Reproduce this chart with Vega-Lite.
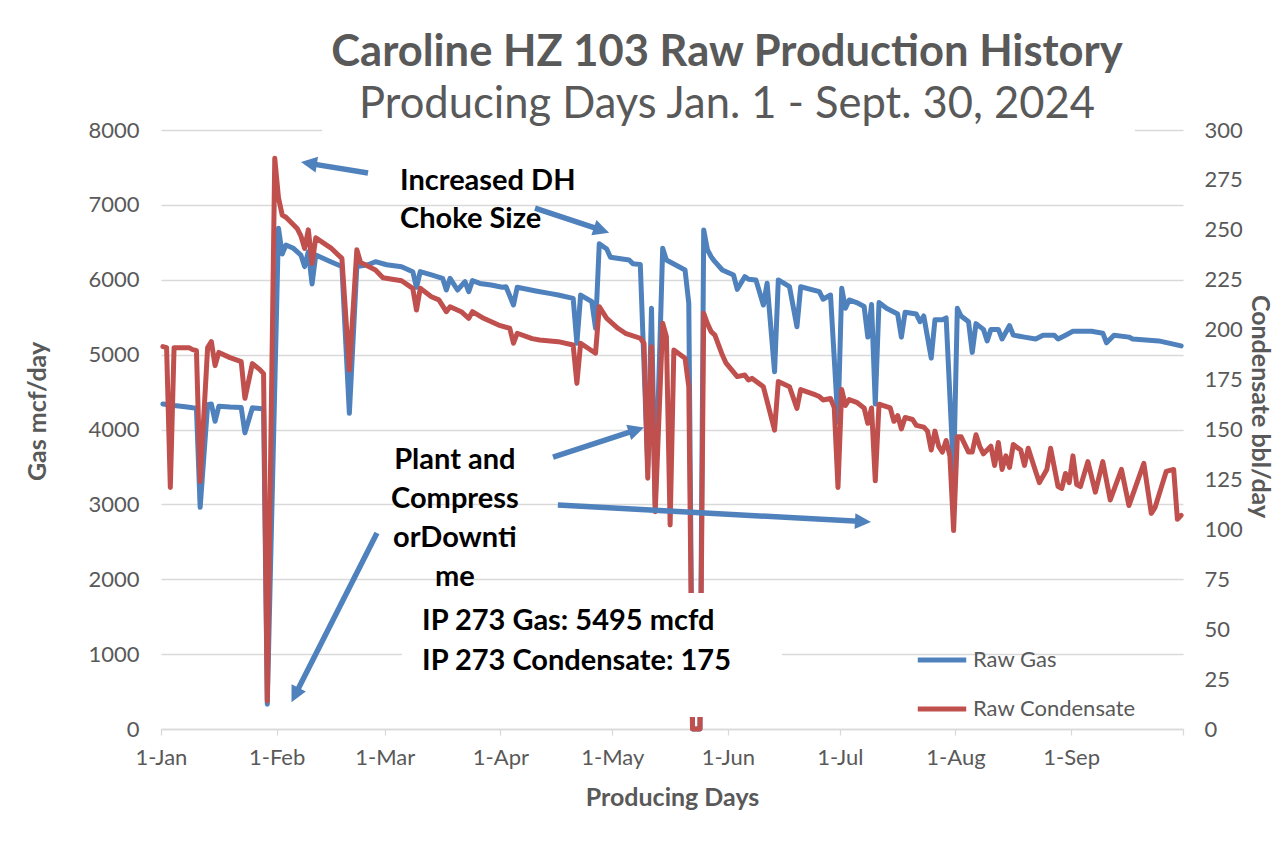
{
  "$schema": "https://vega.github.io/schema/vega-lite/v6.json",
  "width": 1022,
  "height": 599,
  "autosize": {"type": "none"},
  "padding": {"left": 161, "top": 130, "right": 98, "bottom": 132},
  "background": "white",
  "config": {
    "font": "Lato",
    "view": {"stroke": null},
    "axis": {"labelFont": "Lato", "titleFont": "Lato"}
  },
  "title": {
    "text": "Caroline HZ 103 Raw Production History",
    "subtitle": "Producing Days Jan. 1 - Sept. 30, 2024",
    "anchor": "middle",
    "dx": 55,
    "offset": -8,
    "font": "Lato",
    "fontSize": 43.5,
    "fontWeight": "bold",
    "color": "#595959",
    "subtitleFont": "Lato",
    "subtitleFontSize": 43.5,
    "subtitleFontWeight": "normal",
    "subtitleColor": "#595959",
    "subtitlePadding": 8
  },
  "datasets": {
    "gas": [
      {"date": "2024-01-01", "mcf": 4340}, {"date": "2024-01-04", "mcf": 4320}, {"date": "2024-01-07", "mcf": 4305},
      {"date": "2024-01-09", "mcf": 4290}, {"date": "2024-01-10", "mcf": 4285}, {"date": "2024-01-11", "mcf": 2960},
      {"date": "2024-01-13", "mcf": 4330}, {"date": "2024-01-14", "mcf": 4340}, {"date": "2024-01-15", "mcf": 4110},
      {"date": "2024-01-16", "mcf": 4310}, {"date": "2024-01-19", "mcf": 4300}, {"date": "2024-01-22", "mcf": 4295},
      {"date": "2024-01-23", "mcf": 3955}, {"date": "2024-01-25", "mcf": 4290}, {"date": "2024-01-27", "mcf": 4280},
      {"date": "2024-01-28", "mcf": 4275}, {"date": "2024-01-29", "mcf": 330}, {"date": "2024-02-01", "mcf": 6687},
      {"date": "2024-02-02", "mcf": 6344}, {"date": "2024-02-03", "mcf": 6464}, {"date": "2024-02-05", "mcf": 6420},
      {"date": "2024-02-07", "mcf": 6330}, {"date": "2024-02-08", "mcf": 6176}, {"date": "2024-02-09", "mcf": 6375},
      {"date": "2024-02-10", "mcf": 5944}, {"date": "2024-02-11", "mcf": 6330}, {"date": "2024-02-15", "mcf": 6241},
      {"date": "2024-02-18", "mcf": 6176}, {"date": "2024-02-20", "mcf": 4216}, {"date": "2024-02-22", "mcf": 6176},
      {"date": "2024-02-25", "mcf": 6200}, {"date": "2024-02-27", "mcf": 6241}, {"date": "2024-03-01", "mcf": 6200},
      {"date": "2024-03-05", "mcf": 6174}, {"date": "2024-03-08", "mcf": 6108}, {"date": "2024-03-09", "mcf": 5899},
      {"date": "2024-03-10", "mcf": 6108}, {"date": "2024-03-13", "mcf": 6065}, {"date": "2024-03-16", "mcf": 6019},
      {"date": "2024-03-17", "mcf": 5863}, {"date": "2024-03-18", "mcf": 6019}, {"date": "2024-03-20", "mcf": 5863},
      {"date": "2024-03-22", "mcf": 5974}, {"date": "2024-03-23", "mcf": 5840}, {"date": "2024-03-24", "mcf": 5988},
      {"date": "2024-03-26", "mcf": 5951}, {"date": "2024-03-29", "mcf": 5930}, {"date": "2024-04-01", "mcf": 5900},
      {"date": "2024-04-02", "mcf": 5907}, {"date": "2024-04-04", "mcf": 5663}, {"date": "2024-04-05", "mcf": 5899},
      {"date": "2024-04-10", "mcf": 5850}, {"date": "2024-04-14", "mcf": 5815}, {"date": "2024-04-16", "mcf": 5796},
      {"date": "2024-04-20", "mcf": 5752}, {"date": "2024-04-21", "mcf": 5151}, {"date": "2024-04-22", "mcf": 5796},
      {"date": "2024-04-25", "mcf": 5707}, {"date": "2024-04-26", "mcf": 5352}, {"date": "2024-04-27", "mcf": 6480},
      {"date": "2024-04-29", "mcf": 6410}, {"date": "2024-04-30", "mcf": 6300}, {"date": "2024-05-05", "mcf": 6264},
      {"date": "2024-05-06", "mcf": 6215}, {"date": "2024-05-08", "mcf": 6205}, {"date": "2024-05-10", "mcf": 3500},
      {"date": "2024-05-11", "mcf": 5619}, {"date": "2024-05-12", "mcf": 3000}, {"date": "2024-05-14", "mcf": 6420},
      {"date": "2024-05-15", "mcf": 6264}, {"date": "2024-05-20", "mcf": 6130}, {"date": "2024-05-21", "mcf": 5686},
      {"date": "2024-05-22", "mcf": 0}, {"date": "2024-05-23", "mcf": 0}, {"date": "2024-05-24", "mcf": 0},
      {"date": "2024-05-25", "mcf": 6665}, {"date": "2024-05-26", "mcf": 6400}, {"date": "2024-05-27", "mcf": 6308},
      {"date": "2024-05-28", "mcf": 6241}, {"date": "2024-05-30", "mcf": 6130}, {"date": "2024-06-02", "mcf": 6063},
      {"date": "2024-06-03", "mcf": 5872}, {"date": "2024-06-05", "mcf": 6041}, {"date": "2024-06-06", "mcf": 6008},
      {"date": "2024-06-08", "mcf": 5997}, {"date": "2024-06-10", "mcf": 5663}, {"date": "2024-06-11", "mcf": 5953},
      {"date": "2024-06-13", "mcf": 4772}, {"date": "2024-06-14", "mcf": 5997}, {"date": "2024-06-17", "mcf": 5907},
      {"date": "2024-06-19", "mcf": 5373}, {"date": "2024-06-20", "mcf": 5907}, {"date": "2024-06-25", "mcf": 5841},
      {"date": "2024-06-26", "mcf": 5740}, {"date": "2024-06-28", "mcf": 5796}, {"date": "2024-06-30", "mcf": 4100},
      {"date": "2024-07-01", "mcf": 5886}, {"date": "2024-07-02", "mcf": 5619}, {"date": "2024-07-03", "mcf": 5730},
      {"date": "2024-07-05", "mcf": 5695}, {"date": "2024-07-07", "mcf": 5644}, {"date": "2024-07-08", "mcf": 5234},
      {"date": "2024-07-09", "mcf": 5670}, {"date": "2024-07-10", "mcf": 4339}, {"date": "2024-07-11", "mcf": 5695},
      {"date": "2024-07-13", "mcf": 5618}, {"date": "2024-07-16", "mcf": 5542}, {"date": "2024-07-17", "mcf": 5234},
      {"date": "2024-07-18", "mcf": 5567}, {"date": "2024-07-21", "mcf": 5542}, {"date": "2024-07-22", "mcf": 5439},
      {"date": "2024-07-23", "mcf": 5516}, {"date": "2024-07-25", "mcf": 4953}, {"date": "2024-07-26", "mcf": 5465},
      {"date": "2024-07-28", "mcf": 5465}, {"date": "2024-07-29", "mcf": 5490}, {"date": "2024-07-31", "mcf": 3400},
      {"date": "2024-08-01", "mcf": 5618}, {"date": "2024-08-02", "mcf": 5516}, {"date": "2024-08-04", "mcf": 5439},
      {"date": "2024-08-05", "mcf": 5030}, {"date": "2024-08-06", "mcf": 5414}, {"date": "2024-08-08", "mcf": 5337},
      {"date": "2024-08-09", "mcf": 5183}, {"date": "2024-08-10", "mcf": 5337}, {"date": "2024-08-12", "mcf": 5337},
      {"date": "2024-08-13", "mcf": 5209}, {"date": "2024-08-15", "mcf": 5388}, {"date": "2024-08-16", "mcf": 5260},
      {"date": "2024-08-19", "mcf": 5234}, {"date": "2024-08-22", "mcf": 5209}, {"date": "2024-08-24", "mcf": 5260},
      {"date": "2024-08-27", "mcf": 5260}, {"date": "2024-08-28", "mcf": 5209}, {"date": "2024-08-30", "mcf": 5260},
      {"date": "2024-09-01", "mcf": 5311}, {"date": "2024-09-06", "mcf": 5311}, {"date": "2024-09-09", "mcf": 5286},
      {"date": "2024-09-10", "mcf": 5158}, {"date": "2024-09-12", "mcf": 5260}, {"date": "2024-09-16", "mcf": 5234},
      {"date": "2024-09-17", "mcf": 5209}, {"date": "2024-09-24", "mcf": 5183}, {"date": "2024-09-30", "mcf": 5117}
    ],
    "cond": [
      {"date": "2024-01-01", "bbl": 191.5}, {"date": "2024-01-02", "bbl": 191}, {"date": "2024-01-03", "bbl": 121},
      {"date": "2024-01-04", "bbl": 191}, {"date": "2024-01-08", "bbl": 191}, {"date": "2024-01-09", "bbl": 190},
      {"date": "2024-01-10", "bbl": 189.5}, {"date": "2024-01-11", "bbl": 124}, {"date": "2024-01-13", "bbl": 191},
      {"date": "2024-01-14", "bbl": 194}, {"date": "2024-01-15", "bbl": 182}, {"date": "2024-01-16", "bbl": 188.6},
      {"date": "2024-01-19", "bbl": 186}, {"date": "2024-01-22", "bbl": 184}, {"date": "2024-01-23", "bbl": 165.6},
      {"date": "2024-01-25", "bbl": 183}, {"date": "2024-01-27", "bbl": 180}, {"date": "2024-01-28", "bbl": 178},
      {"date": "2024-01-29", "bbl": 14}, {"date": "2024-01-31", "bbl": 285.8}, {"date": "2024-02-01", "bbl": 266},
      {"date": "2024-02-02", "bbl": 257.4}, {"date": "2024-02-03", "bbl": 256.3}, {"date": "2024-02-06", "bbl": 250.7},
      {"date": "2024-02-07", "bbl": 247}, {"date": "2024-02-08", "bbl": 240.7}, {"date": "2024-02-09", "bbl": 250},
      {"date": "2024-02-10", "bbl": 233.2}, {"date": "2024-02-11", "bbl": 246}, {"date": "2024-02-15", "bbl": 241},
      {"date": "2024-02-18", "bbl": 235.7}, {"date": "2024-02-20", "bbl": 179.8}, {"date": "2024-02-22", "bbl": 240},
      {"date": "2024-02-23", "bbl": 233.7}, {"date": "2024-02-27", "bbl": 229.9}, {"date": "2024-02-29", "bbl": 226},
      {"date": "2024-03-05", "bbl": 224.5}, {"date": "2024-03-08", "bbl": 220.7}, {"date": "2024-03-09", "bbl": 209.8},
      {"date": "2024-03-10", "bbl": 220.7}, {"date": "2024-03-13", "bbl": 216.5}, {"date": "2024-03-15", "bbl": 214.9},
      {"date": "2024-03-17", "bbl": 209}, {"date": "2024-03-18", "bbl": 211.5}, {"date": "2024-03-21", "bbl": 209},
      {"date": "2024-03-23", "bbl": 205.7}, {"date": "2024-03-24", "bbl": 209}, {"date": "2024-03-27", "bbl": 205.7},
      {"date": "2024-03-31", "bbl": 202.3}, {"date": "2024-04-03", "bbl": 200.7}, {"date": "2024-04-04", "bbl": 193.2},
      {"date": "2024-04-05", "bbl": 198.2}, {"date": "2024-04-09", "bbl": 195.5}, {"date": "2024-04-11", "bbl": 194.8},
      {"date": "2024-04-16", "bbl": 194}, {"date": "2024-04-20", "bbl": 192.3}, {"date": "2024-04-21", "bbl": 173.1},
      {"date": "2024-04-22", "bbl": 193.2}, {"date": "2024-04-26", "bbl": 188.2}, {"date": "2024-04-27", "bbl": 211.5},
      {"date": "2024-04-29", "bbl": 205.7}, {"date": "2024-05-02", "bbl": 200.7}, {"date": "2024-05-04", "bbl": 198.2},
      {"date": "2024-05-08", "bbl": 195.7}, {"date": "2024-05-09", "bbl": 193.2}, {"date": "2024-05-10", "bbl": 125.6},
      {"date": "2024-05-11", "bbl": 191.5}, {"date": "2024-05-12", "bbl": 108.8}, {"date": "2024-05-14", "bbl": 203.2},
      {"date": "2024-05-15", "bbl": 196.5}, {"date": "2024-05-16", "bbl": 102.2}, {"date": "2024-05-17", "bbl": 189.8},
      {"date": "2024-05-20", "bbl": 185.7}, {"date": "2024-05-21", "bbl": 171.4}, {"date": "2024-05-22", "bbl": 0},
      {"date": "2024-05-23", "bbl": 0}, {"date": "2024-05-24", "bbl": 0}, {"date": "2024-05-25", "bbl": 208.2},
      {"date": "2024-05-26", "bbl": 203}, {"date": "2024-05-27", "bbl": 199}, {"date": "2024-05-28", "bbl": 197.3},
      {"date": "2024-05-30", "bbl": 187.3}, {"date": "2024-05-31", "bbl": 183.2}, {"date": "2024-06-03", "bbl": 176.5},
      {"date": "2024-06-05", "bbl": 177.3}, {"date": "2024-06-06", "bbl": 174.8}, {"date": "2024-06-07", "bbl": 175.6},
      {"date": "2024-06-10", "bbl": 171.4}, {"date": "2024-06-13", "bbl": 149.7}, {"date": "2024-06-14", "bbl": 174},
      {"date": "2024-06-17", "bbl": 171.4}, {"date": "2024-06-19", "bbl": 160.6}, {"date": "2024-06-20", "bbl": 170},
      {"date": "2024-06-24", "bbl": 167.3}, {"date": "2024-06-25", "bbl": 166.5}, {"date": "2024-06-26", "bbl": 164.8},
      {"date": "2024-06-28", "bbl": 165.5}, {"date": "2024-06-29", "bbl": 161}, {"date": "2024-06-30", "bbl": 121},
      {"date": "2024-07-01", "bbl": 170}, {"date": "2024-07-02", "bbl": 162}, {"date": "2024-07-03", "bbl": 165},
      {"date": "2024-07-05", "bbl": 163.6}, {"date": "2024-07-07", "bbl": 160.8}, {"date": "2024-07-08", "bbl": 153.1},
      {"date": "2024-07-09", "bbl": 160.8}, {"date": "2024-07-10", "bbl": 124.3}, {"date": "2024-07-11", "bbl": 162.7},
      {"date": "2024-07-14", "bbl": 160.8}, {"date": "2024-07-15", "bbl": 154.1}, {"date": "2024-07-16", "bbl": 157},
      {"date": "2024-07-17", "bbl": 150.3}, {"date": "2024-07-18", "bbl": 156}, {"date": "2024-07-20", "bbl": 155},
      {"date": "2024-07-21", "bbl": 152.1}, {"date": "2024-07-23", "bbl": 151.2}, {"date": "2024-07-24", "bbl": 149.2},
      {"date": "2024-07-25", "bbl": 139.7}, {"date": "2024-07-26", "bbl": 149.2}, {"date": "2024-07-27", "bbl": 141.6},
      {"date": "2024-07-28", "bbl": 138.7}, {"date": "2024-07-29", "bbl": 144.5}, {"date": "2024-07-30", "bbl": 136.8},
      {"date": "2024-07-31", "bbl": 99.4}, {"date": "2024-08-01", "bbl": 146.4}, {"date": "2024-08-02", "bbl": 146.4},
      {"date": "2024-08-04", "bbl": 138.7}, {"date": "2024-08-05", "bbl": 138.7}, {"date": "2024-08-06", "bbl": 147.4},
      {"date": "2024-08-07", "bbl": 141.6}, {"date": "2024-08-08", "bbl": 137.8}, {"date": "2024-08-10", "bbl": 141.6},
      {"date": "2024-08-11", "bbl": 132}, {"date": "2024-08-12", "bbl": 143.5}, {"date": "2024-08-13", "bbl": 130},
      {"date": "2024-08-14", "bbl": 136.8}, {"date": "2024-08-15", "bbl": 131}, {"date": "2024-08-16", "bbl": 142.5},
      {"date": "2024-08-18", "bbl": 139.7}, {"date": "2024-08-19", "bbl": 132}, {"date": "2024-08-20", "bbl": 140.6},
      {"date": "2024-08-22", "bbl": 129}, {"date": "2024-08-23", "bbl": 123.4}, {"date": "2024-08-25", "bbl": 130},
      {"date": "2024-08-26", "bbl": 140.6}, {"date": "2024-08-28", "bbl": 121.4}, {"date": "2024-08-29", "bbl": 120.5},
      {"date": "2024-08-30", "bbl": 128}, {"date": "2024-08-31", "bbl": 123.4}, {"date": "2024-09-01", "bbl": 136.8},
      {"date": "2024-09-02", "bbl": 122.4}, {"date": "2024-09-03", "bbl": 121.4}, {"date": "2024-09-05", "bbl": 133.9},
      {"date": "2024-09-07", "bbl": 118.6}, {"date": "2024-09-09", "bbl": 133.9}, {"date": "2024-09-11", "bbl": 114.7},
      {"date": "2024-09-14", "bbl": 130}, {"date": "2024-09-16", "bbl": 111.9}, {"date": "2024-09-20", "bbl": 133},
      {"date": "2024-09-22", "bbl": 108}, {"date": "2024-09-23", "bbl": 110.9}, {"date": "2024-09-26", "bbl": 129},
      {"date": "2024-09-28", "bbl": 130}, {"date": "2024-09-29", "bbl": 105}, {"date": "2024-09-30", "bbl": 107}
    ]
  },
  "layer": [
    {
      "data": {"name": "gas"},
      "mark": {"type": "line", "strokeWidth": 5, "strokeCap": "round", "strokeJoin": "round"},
      "encoding": {
        "x": {
          "field": "date", "type": "temporal", "timeUnit": "utcyearmonthdate", "bandPosition": 0.5,
          "scale": {"type": "utc", "domain": [{"year": 2024, "month": 1, "date": 1, "utc": true}, {"year": 2024, "month": 10, "date": 1, "utc": true}]},
          "axis": {
            "title": "Producing Days",
            "values": [
              {"year": 2024, "month": 1, "date": 1, "utc": true}, {"year": 2024, "month": 2, "date": 1, "utc": true},
              {"year": 2024, "month": 3, "date": 1, "utc": true}, {"year": 2024, "month": 4, "date": 1, "utc": true},
              {"year": 2024, "month": 5, "date": 1, "utc": true}, {"year": 2024, "month": 6, "date": 1, "utc": true},
              {"year": 2024, "month": 7, "date": 1, "utc": true}, {"year": 2024, "month": 8, "date": 1, "utc": true},
              {"year": 2024, "month": 9, "date": 1, "utc": true}, {"year": 2024, "month": 10, "date": 1, "utc": true}
            ],
            "labelExpr": "utcmonth(datum.value) == 9 ? '' : utcFormat(datum.value, '%-d-%b')",
            "grid": false, "domainColor": "#d9d9d9", "domainWidth": 1.3,
            "tickColor": "#d9d9d9", "tickSize": 6, "tickWidth": 1.3,
            "labelFontSize": 22, "labelColor": "#595959", "labelPadding": 12, "labelFlush": false,
            "titleFontSize": 25, "titleFontWeight": "bold", "titleColor": "#595959", "titlePadding": 17
          }
        },
        "y": {
          "field": "mcf", "type": "quantitative", "scale": {"domain": [0, 8000]},
          "axis": {
            "orient": "left", "title": "Gas mcf/day", "values": [0, 1000, 2000, 3000, 4000, 5000, 6000, 7000, 8000], "format": "d",
            "grid": true, "gridColor": "#d9d9d9", "gridWidth": 1.3, "domain": false, "ticks": false,
            "labelFontSize": 22, "labelColor": "#595959", "labelPadding": 22,
            "titleFontSize": 25, "titleFontWeight": "bold", "titleColor": "#595959", "titlePadding": 37, "titleY": 281
          }
        },
        "color": {
          "datum": "Raw Gas", "type": "nominal",
          "scale": {"domain": ["Raw Gas", "Raw Condensate"], "range": ["#4f81bd", "#c0504d"]},
          "legend": {
            "orient": "none", "legendX": 754, "legendY": 503, "direction": "vertical", "title": null,
            "symbolType": "stroke", "symbolSize": 2350, "symbolStrokeWidth": 5,
            "labelFont": "Lato", "labelFontSize": 22, "labelColor": "#595959", "labelOffset": 4, "rowPadding": 11, "labelLimit": 400
          }
        }
      }
    },
    {
      "layer": [
        {
          "data": {"name": "cond"},
          "mark": {"type": "line", "strokeWidth": 5, "strokeCap": "round", "strokeJoin": "round"},
          "encoding": {
            "x": {"field": "date", "type": "temporal", "timeUnit": "utcyearmonthdate", "bandPosition": 0.5},
            "y": {
              "field": "bbl", "type": "quantitative", "scale": {"domain": [0, 300]},
              "axis": {
                "orient": "right", "title": "Condensate bbl/day", "values": [0, 25, 50, 75, 100, 125, 150, 175, 200, 225, 250, 275, 300],
                "grid": false, "domain": false, "ticks": false,
                "labelFontSize": 22, "labelColor": "#595959", "labelPadding": 21,
                "titleFontSize": 25, "titleFontWeight": "bold", "titleColor": "#595959", "titlePadding": 4, "titleY": 276
              }
            },
            "color": {"datum": "Raw Condensate", "type": "nominal"}
          }
        },
        {
          "data": {"values": [{}]},
          "mark": {"type": "rect", "color": "white"},
          "encoding": {
            "x": {"datum": {"year": 2024, "month": 3, "date": 5, "hours": 14, "utc": true}, "type": "temporal"},
            "x2": {"datum": {"year": 2024, "month": 6, "date": 15, "hours": 12, "utc": true}},
            "y": {"datum": 68.1, "type": "quantitative"},
            "y2": {"datum": 6.0}
          }
        },
        {
          "data": {"values": [{}]},
          "mark": {"type": "rect", "color": "white"},
          "encoding": {
            "x": {"datum": {"year": 2024, "month": 2, "date": 13, "hours": 5, "utc": true}, "type": "temporal"},
            "x2": {"datum": {"year": 2024, "month": 9, "date": 18, "hours": 2, "utc": true}},
            "y": {"datum": 298.5, "type": "quantitative"},
            "y2": {"datum": 301.5}
          }
        },
        {
          "data": {"values": [{}]},
          "mark": {"type": "text", "text": ["Increased DH", "Choke Size"], "align": "left", "baseline": "alphabetic", "font": "Lato", "fontSize": 29, "fontWeight": "bold", "color": "#000000", "lineHeight": 38},
          "encoding": {
            "x": {"datum": {"year": 2024, "month": 3, "date": 5, "hours": 2, "utc": true}, "type": "temporal"},
            "y": {"datum": 269.9, "type": "quantitative"}
          }
        },
        {
          "data": {"values": [{}]},
          "mark": {"type": "text", "text": ["Plant and", "Compress", "orDownti", "me"], "align": "center", "baseline": "alphabetic", "font": "Lato", "fontSize": 29, "fontWeight": "bold", "color": "#000000", "lineHeight": 39},
          "encoding": {
            "x": {"datum": {"year": 2024, "month": 3, "date": 19, "hours": 19, "utc": true}, "type": "temporal"},
            "y": {"datum": 130.2, "type": "quantitative"}
          }
        },
        {
          "data": {"values": [{}]},
          "mark": {"type": "text", "text": ["IP 273 Gas: 5495 mcfd", "IP 273 Condensate: 175"], "align": "left", "baseline": "alphabetic", "font": "Lato", "fontSize": 29, "fontWeight": "bold", "color": "#000000", "lineHeight": 40},
          "encoding": {
            "x": {"datum": {"year": 2024, "month": 3, "date": 11, "utc": true}, "type": "temporal"},
            "y": {"datum": 49.6, "type": "quantitative"}
          }
        },
        {
          "data": {"values": [{}]},
          "mark": {"type": "rule", "color": "#4f81bd", "strokeWidth": 5.5},
          "encoding": {
            "x": {"datum": {"year": 2024, "month": 2, "date": 25, "hours": 12, "utc": true}, "type": "temporal"},
            "x2": {"datum": {"year": 2024, "month": 2, "date": 9, "hours": 15, "minutes": 36, "utc": true}},
            "y": {"datum": 278.5, "type": "quantitative"},
            "y2": {"datum": 283.3}
          }
        },
        {
          "data": {"values": [{}]},
          "mark": {"type": "point", "shape": "M0,-1L1,1L-1,1Z", "size": 256, "filled": true, "color": "#4f81bd", "opacity": 1, "angle": 279},
          "encoding": {
            "x": {"datum": {"year": 2024, "month": 2, "date": 9, "hours": 15, "minutes": 36, "utc": true}, "type": "temporal"},
            "y": {"datum": 283.3, "type": "quantitative"}
          }
        },
        {
          "data": {"values": [{}]},
          "mark": {"type": "rule", "color": "#4f81bd", "strokeWidth": 5.5},
          "encoding": {
            "x": {"datum": {"year": 2024, "month": 4, "date": 10, "hours": 6, "minutes": 30, "utc": true}, "type": "temporal"},
            "x2": {"datum": {"year": 2024, "month": 4, "date": 28, "hours": 2, "minutes": 24, "utc": true}},
            "y": {"datum": 260.9, "type": "quantitative"},
            "y2": {"datum": 249.8}
          }
        },
        {
          "data": {"values": [{}]},
          "mark": {"type": "point", "shape": "M0,-1L1,1L-1,1Z", "size": 256, "filled": true, "color": "#4f81bd", "opacity": 1, "angle": 108.4},
          "encoding": {
            "x": {"datum": {"year": 2024, "month": 4, "date": 28, "hours": 2, "minutes": 24, "utc": true}, "type": "temporal"},
            "y": {"datum": 249.8, "type": "quantitative"}
          }
        },
        {
          "data": {"values": [{}]},
          "mark": {"type": "rule", "color": "#4f81bd", "strokeWidth": 5.5},
          "encoding": {
            "x": {"datum": {"year": 2024, "month": 4, "date": 15, "hours": 2, "minutes": 24, "utc": true}, "type": "temporal"},
            "x2": {"datum": {"year": 2024, "month": 5, "date": 7, "hours": 10, "minutes": 48, "utc": true}},
            "y": {"datum": 136.2, "type": "quantitative"},
            "y2": {"datum": 149.8}
          }
        },
        {
          "data": {"values": [{}]},
          "mark": {"type": "point", "shape": "M0,-1L1,1L-1,1Z", "size": 256, "filled": true, "color": "#4f81bd", "opacity": 1, "angle": 72},
          "encoding": {
            "x": {"datum": {"year": 2024, "month": 5, "date": 7, "hours": 10, "minutes": 48, "utc": true}, "type": "temporal"},
            "y": {"datum": 149.8, "type": "quantitative"}
          }
        },
        {
          "data": {"values": [{}]},
          "mark": {"type": "rule", "color": "#4f81bd", "strokeWidth": 5.5},
          "encoding": {
            "x": {"datum": {"year": 2024, "month": 4, "date": 16, "hours": 9, "minutes": 36, "utc": true}, "type": "temporal"},
            "x2": {"datum": {"year": 2024, "month": 7, "date": 7, "hours": 4, "minutes": 48, "utc": true}},
            "y": {"datum": 112.2, "type": "quantitative"},
            "y2": {"datum": 103.9}
          }
        },
        {
          "data": {"values": [{}]},
          "mark": {"type": "point", "shape": "M0,-1L1,1L-1,1Z", "size": 256, "filled": true, "color": "#4f81bd", "opacity": 1, "angle": 93.1},
          "encoding": {
            "x": {"datum": {"year": 2024, "month": 7, "date": 7, "hours": 4, "minutes": 48, "utc": true}, "type": "temporal"},
            "y": {"datum": 103.9, "type": "quantitative"}
          }
        },
        {
          "data": {"values": [{}]},
          "mark": {"type": "rule", "color": "#4f81bd", "strokeWidth": 5.5},
          "encoding": {
            "x": {"datum": {"year": 2024, "month": 2, "date": 27, "hours": 21, "minutes": 36, "utc": true}, "type": "temporal"},
            "x2": {"datum": {"year": 2024, "month": 2, "date": 5, "hours": 22, "minutes": 48, "utc": true}},
            "y": {"datum": 98.2, "type": "quantitative"},
            "y2": {"datum": 17.0}
          }
        },
        {
          "data": {"values": [{}]},
          "mark": {"type": "point", "shape": "M0,-1L1,1L-1,1Z", "size": 256, "filled": true, "color": "#4f81bd", "opacity": 1, "angle": 206.8},
          "encoding": {
            "x": {"datum": {"year": 2024, "month": 2, "date": 5, "hours": 22, "minutes": 48, "utc": true}, "type": "temporal"},
            "y": {"datum": 17.0, "type": "quantitative"}
          }
        }
      ]
    }
  ],
  "resolve": {"scale": {"y": "independent"}}
}
